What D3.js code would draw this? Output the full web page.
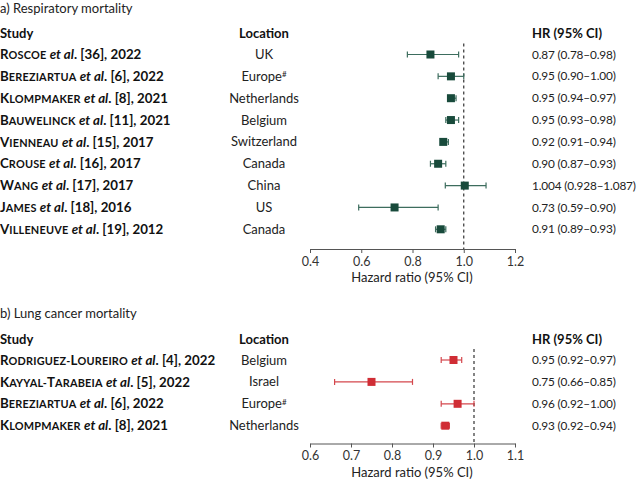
<!DOCTYPE html>
<html>
<head>
<meta charset="utf-8">
<script src="https://cdn.jsdelivr.net/npm/d3@7"></script>
<style>
  body { margin: 0; background: #fff; }
  svg { font-family: "Lato", "Noto Sans", sans-serif; }
</style>
</head>
<body>
<svg id="chart" width="640" height="482"></svg>
<script>
// a) Respiratory mortality
const respAuthors = ["Roscoe", "Bereziartua", "Klompmaker", "Bauwelinck", "Vienneau", "Crouse", "Wang", "James", "Villeneuve"];
const respRefs = ["36", "6", "8", "11", "15", "16", "17", "18", "19"];
const respYears = ["2022", "2022", "2021", "2021", "2017", "2017", "2017", "2016", "2012"];
const respLocations = ["UK", "Europe", "Netherlands", "Belgium", "Switzerland", "Canada", "China", "US", "Canada"];
const respHR = [0.87, 0.95, 0.95, 0.95, 0.92, 0.90, 1.004, 0.73, 0.91];
const respLow = [0.78, 0.90, 0.94, 0.93, 0.91, 0.87, 0.928, 0.59, 0.89];
const respHigh = [0.98, 1.00, 0.97, 0.98, 0.94, 0.93, 1.087, 0.90, 0.93];
const respLabels = ["0.87 (0.78–0.98)", "0.95 (0.90–1.00)", "0.95 (0.94–0.97)", "0.95 (0.93–0.98)", "0.92 (0.91–0.94)", "0.90 (0.87–0.93)", "1.004 (0.928–1.087)", "0.73 (0.59–0.90)", "0.91 (0.89–0.93)"];
const respTicks = [0.4, 0.6, 0.8, 1.0, 1.2];

// b) Lung cancer mortality
const lungAuthors = ["Rodriguez-Loureiro", "Kayyal-Tarabeia", "Bereziartua", "Klompmaker"];
const lungRefs = ["4", "5", "6", "8"];
const lungYears = ["2022", "2022", "2022", "2021"];
const lungLocations = ["Belgium", "Israel", "Europe", "Netherlands"];
const lungHR = [0.95, 0.75, 0.96, 0.93];
const lungLow = [0.92, 0.66, 0.92, 0.92];
const lungHigh = [0.97, 0.85, 1.00, 0.94];
const lungLabels = ["0.95 (0.92–0.97)", "0.75 (0.66–0.85)", "0.96 (0.92–1.00)", "0.93 (0.92–0.94)"];
const lungTicks = [0.6, 0.7, 0.8, 0.9, 1.0, 1.1];

const svg = d3.select("#chart");
const fs = 13;

function drawPanel(cfg) {
  const g = svg.append("g").attr("transform", `translate(0,${cfg.top})`);
  const n = cfg.authors.length;

  g.append("text").attr("x", 0).attr("y", 0).attr("dy", "0.35em")
    .style("font-size", "13px").attr("fill", "#222").text(cfg.title);

  const headY = cfg.headY;
  g.append("text").attr("x", 0).attr("y", headY).attr("dy", "0.35em")
    .style("font-size", fs + "px").style("font-weight", "bold").attr("fill", "#111").text("Study");
  g.append("text").attr("x", 264).attr("y", headY).attr("dy", "0.35em").attr("text-anchor", "middle")
    .style("font-size", fs + "px").style("font-weight", "bold").attr("fill", "#111").text("Location");
  g.append("text").attr("x", 532).attr("y", headY).attr("dy", "0.35em")
    .style("font-size", fs + "px").style("font-weight", "bold").attr("fill", "#111").text("HR (95% CI)");

  const y = d3.scalePoint().domain(d3.range(n)).range([cfg.firstRow, cfg.firstRow + cfg.step * (n - 1)]);
  const x = d3.scaleLinear().domain(cfg.domain).range([310, 515]);

  // study names in small caps
  const sfs = 13.3;
  for (let i = 0; i < n; i++) {
    const t = g.append("text").attr("x", 0).attr("y", y(i)).attr("dy", "0.35em")
      .style("font-size", sfs + "px").style("font-weight", "bold").attr("fill", "#111");
    const parts = cfg.authors[i].match(/[A-Z]|[^A-Z]+/g);
    parts.forEach(p => {
      if (/^[A-Z]$/.test(p)) t.append("tspan").style("font-size", sfs + "px").text(p);
      else t.append("tspan").style("font-size", (sfs * 0.82) + "px").style("letter-spacing", "0.2px").text(p.toUpperCase());
    });
    t.append("tspan").text(" ");
    t.append("tspan").style("font-style", "italic").text("et al");
    t.append("tspan").text(`. [${cfg.refs[i]}], ${cfg.years[i]}`);

    const loc = g.append("text").attr("x", 264).attr("y", y(i)).attr("dy", "0.35em").attr("text-anchor", "middle")
      .style("font-size", fs + "px").attr("fill", "#222").text(cfg.locations[i]);
    if (cfg.locations[i] === "Europe") {
      loc.append("tspan").attr("dy", "-0.45em").style("font-size", "8px").text("#");
    }

    g.append("text").attr("x", 532).attr("y", y(i)).attr("dy", "0.35em")
      .style("font-size", "11.8px").style("letter-spacing", "-0.15px").attr("fill", "#222").text(cfg.labels[i]);
  }

  const axisY = cfg.axisY;

  // reference line at HR = 1
  g.append("line")
    .attr("x1", x(1)).attr("x2", x(1))
    .attr("y1", cfg.firstRow - 11).attr("y2", axisY)
    .attr("stroke", "#333").attr("stroke-width", 1.2).attr("stroke-dasharray", "3,3");

  // whiskers
  for (let i = 0; i < n; i++) {
    const yy = y(i);
    g.append("line").attr("x1", x(cfg.low[i])).attr("x2", x(cfg.high[i]))
      .attr("y1", yy).attr("y2", yy).attr("stroke", cfg.lineColor).attr("stroke-width", 1.2);
    [cfg.low[i], cfg.high[i]].forEach(v => {
      g.append("line").attr("x1", x(v)).attr("x2", x(v))
        .attr("y1", yy - 3).attr("y2", yy + 3).attr("stroke", cfg.lineColor).attr("stroke-width", 1.2);
    });
    g.append("rect").attr("x", x(cfg.hr[i]) - 4).attr("y", yy - 4)
      .attr("width", 8).attr("height", 8).attr("fill", cfg.color);
  }

  // axis
  const ax = g.append("g").attr("transform", `translate(0,${axisY})`)
    .call(d3.axisBottom(x).tickValues(cfg.ticks).tickFormat(d3.format(".1f")).tickSize(4).tickSizeOuter(0));
  ax.select(".domain").attr("stroke", "#555");
  ax.selectAll(".tick line").attr("stroke", "#555");
  ax.selectAll(".tick text").attr("fill", "#333").style("font-size", "12.5px")
    .style("font-family", "Lato, 'Noto Sans', sans-serif").attr("y", 8);

  g.append("text").attr("x", x(cfg.domain[0]) + 102).attr("y", axisY + 33).attr("text-anchor", "middle")
    .style("font-size", "13px").attr("fill", "#222").text("Hazard ratio (95% CI)");
}

drawPanel({
  top: 8, title: "a) Respiratory mortality", headY: 25,
  authors: respAuthors, refs: respRefs, years: respYears, locations: respLocations,
  hr: respHR, low: respLow, high: respHigh, labels: respLabels,
  firstRow: 46.5, step: 21.85, axisY: 241, domain: [0.4, 1.2], ticks: respTicks,
  color: "#184a3b", lineColor: "#3d6d5e"
});

drawPanel({
  top: 313, title: "b) Lung cancer mortality", headY: 26,
  authors: lungAuthors, refs: lungRefs, years: lungYears, locations: lungLocations,
  hr: lungHR, low: lungLow, high: lungHigh, labels: lungLabels,
  firstRow: 47, step: 21.9, axisY: 130.5, domain: [0.6, 1.1], ticks: lungTicks,
  color: "#d02d35", lineColor: "#d4474d"
});
</script>
</body>
</html>
